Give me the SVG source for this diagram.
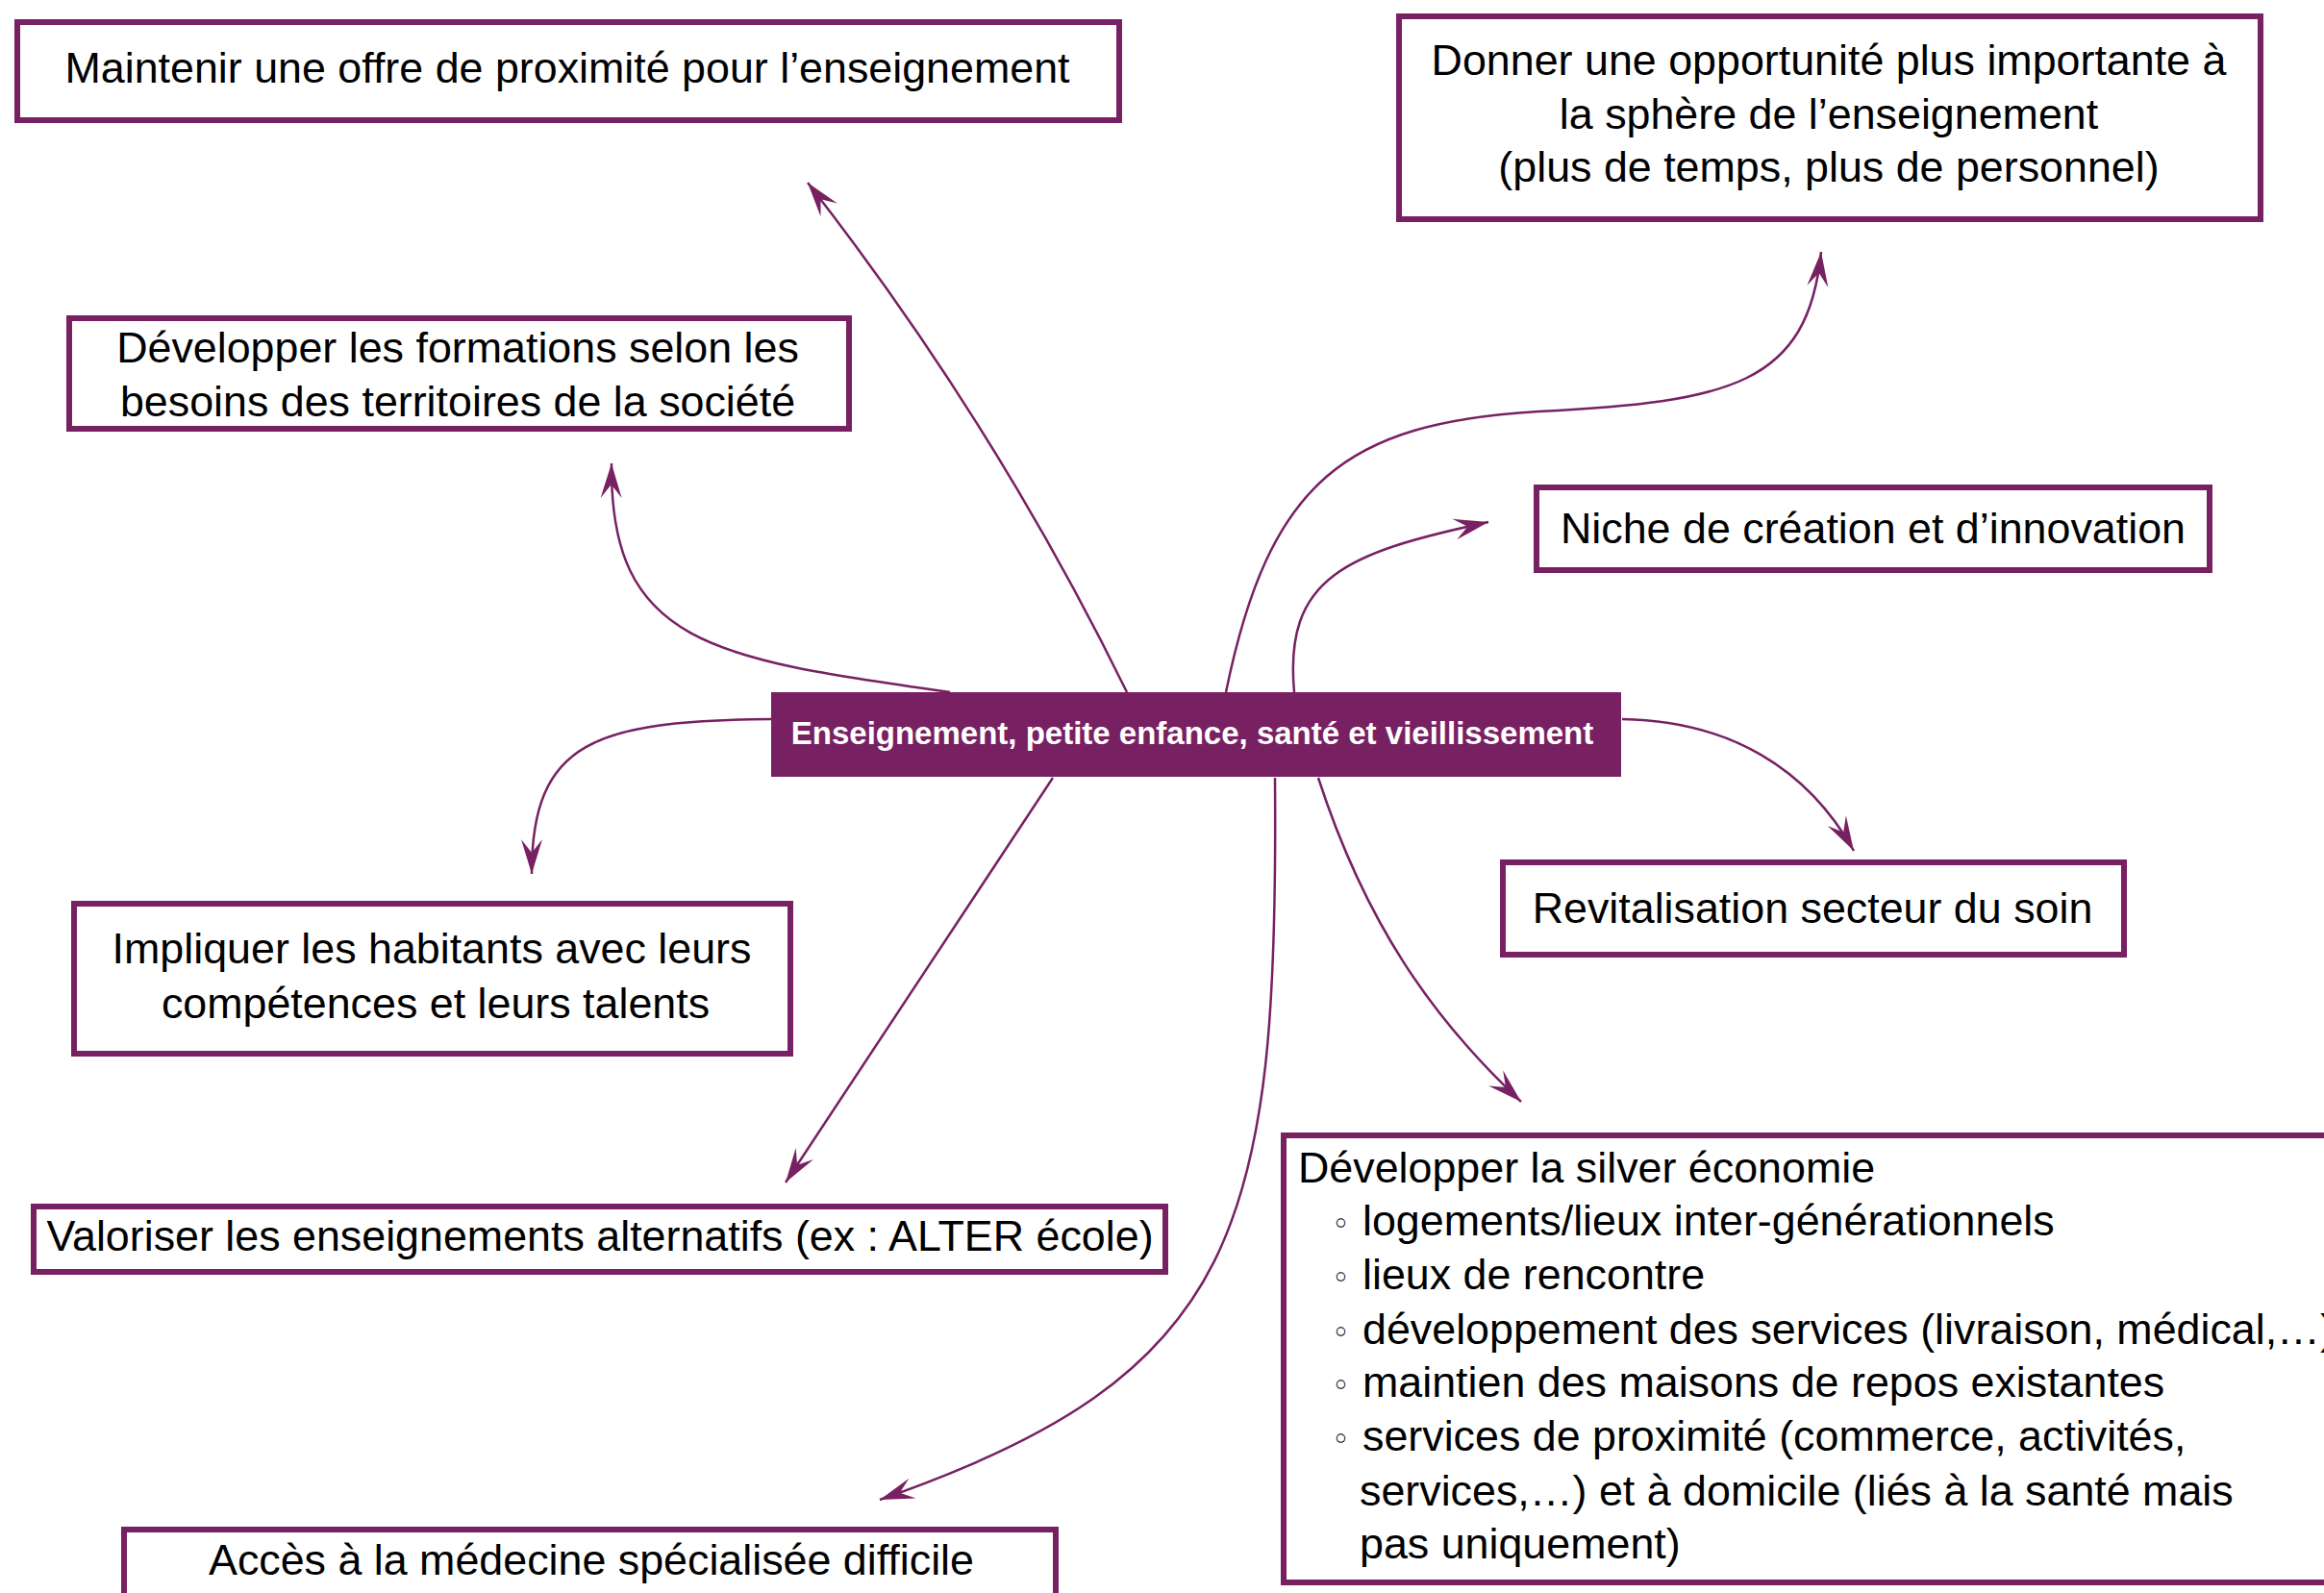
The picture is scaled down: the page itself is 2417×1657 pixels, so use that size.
<svg xmlns="http://www.w3.org/2000/svg" width="2417" height="1657" viewBox="0 0 2417 1657">
<style>
  .box { fill: #ffffff; stroke: #772162; stroke-width: 6; }
  .hub { fill: #772162; stroke: none; }
  .t { font-family: "Liberation Sans", Arial, sans-serif; font-size: 44.8px; fill: #000000; }
  .c { text-anchor: middle; }
  .hubt { font-family: "Liberation Sans", Arial, sans-serif; font-size: 33px; font-weight: bold; fill: #ffffff; text-anchor: middle; }
  .bul { font-family: "DejaVu Sans", sans-serif; font-size: 32px; fill: #000000; }
  .edge { fill: none; stroke: #772162; stroke-width: 2.5; marker-end: url(#arr); }
</style>
<defs>
  <marker id="arr" markerUnits="userSpaceOnUse" viewBox="-40 -15 44 30" refX="0" refY="0" markerWidth="44" markerHeight="30" orient="auto">
    <path d="M0,0 L-36,-11 L-22,0 L-36,11 Z" fill="#772162"/>
  </marker>
</defs>
<rect width="2417" height="1657" fill="#ffffff"/>

<g id="connectors">
  <path class="edge" d="M1172,720 Q1035,440 840,190"/>
  <path class="edge" d="M988,720 C740,685 634,670 636,482"/>
  <path class="edge" d="M802,748 C620,750 553,770 553,909"/>
  <path class="edge" d="M1095,809 L817,1230"/>
  <path class="edge" d="M1326,809 C1330,1280 1290,1430 915,1560"/>
  <path class="edge" d="M1371,809 C1420,960 1490,1060 1582,1146"/>
  <path class="edge" d="M1687,748 C1800,750 1880,800 1928,885"/>
  <path class="edge" d="M1346,720 C1335,600 1400,575 1548,543"/>
  <path class="edge" d="M1275,720 C1320,500 1400,440 1600,428 C1800,418 1880,400 1894,262"/>
</g>

<g id="hub">
  <rect class="hub" x="802" y="720" width="884" height="88"/>
  <text class="hubt" x="1240" y="774">Enseignement, petite enfance, santé et vieillissement</text>
</g>

<g id="n-maintenir">
  <rect class="box" x="18" y="23" width="1146" height="102"/>
  <text class="t c" x="590" y="86">Maintenir une offre de proximité pour l’enseignement</text>
</g>

<g id="n-donner">
  <rect class="box" x="1455" y="17" width="896" height="211"/>
  <text class="t c" x="1902" y="78">Donner une opportunité plus importante à</text>
  <text class="t c" x="1902" y="134">la sphère de l’enseignement</text>
  <text class="t c" x="1902" y="189">(plus de temps, plus de personnel)</text>
</g>

<g id="n-formations">
  <rect class="box" x="72" y="331" width="811" height="115"/>
  <text class="t c" x="476" y="377">Développer les formations selon les</text>
  <text class="t c" x="476" y="433">besoins des territoires de la société</text>
</g>

<g id="n-niche">
  <rect class="box" x="1598" y="507" width="700" height="86"/>
  <text class="t c" x="1948" y="565">Niche de création et d’innovation</text>
</g>

<g id="n-revitalisation">
  <rect class="box" x="1563" y="897" width="646" height="96"/>
  <text class="t c" x="1885" y="960">Revitalisation secteur du soin</text>
</g>

<g id="n-impliquer">
  <rect class="box" x="77" y="940" width="745" height="156"/>
  <text class="t c" x="449" y="1002">Impliquer les habitants avec leurs</text>
  <text class="t c" x="453" y="1059">compétences et leurs talents</text>
</g>

<g id="n-valoriser">
  <rect class="box" x="35" y="1255" width="1177" height="68"/>
  <text class="t c" x="624" y="1301">Valoriser les enseignements alternatifs (ex : ALTER école)</text>
</g>

<g id="n-silver">
  <rect class="box" x="1335" y="1181" width="1120" height="465"/>
  <text class="t" x="1350" y="1230">Développer la silver économie</text>
  <text class="bul" x="1385" y="1284">◦</text>
  <text class="t" x="1417" y="1285">logements/lieux inter-générationnels</text>
  <text class="bul" x="1385" y="1340">◦</text>
  <text class="t" x="1417" y="1341">lieux de rencontre</text>
  <text class="bul" x="1385" y="1397">◦</text>
  <text class="t" x="1417" y="1398">développement des services (livraison, médical,…)</text>
  <text class="bul" x="1385" y="1452">◦</text>
  <text class="t" x="1417" y="1453">maintien des maisons de repos existantes</text>
  <text class="bul" x="1385" y="1508">◦</text>
  <text class="t" x="1417" y="1509">services de proximité (commerce, activités,</text>
  <text class="t" x="1414" y="1566">services,…) et à domicile (liés à la santé mais</text>
  <text class="t" x="1414" y="1621">pas uniquement)</text>
</g>

<g id="n-acces">
  <rect class="box" x="129" y="1591" width="969" height="100"/>
  <text class="t c" x="615" y="1638">Accès à la médecine spécialisée difficile</text>
</g>
</svg>
